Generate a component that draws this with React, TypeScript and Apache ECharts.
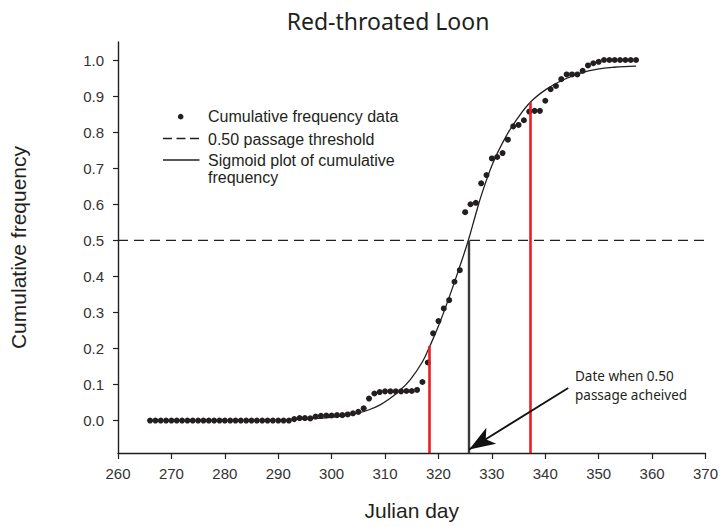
import React, { useEffect, useRef } from "react";
import * as echarts from "echarts";

// ---- text ----
const chartTitle = "Red-throated Loon";
const xAxisName = "Julian day";
const yAxisName = "Cumulative frequency";
const legendLabels = [
  "Cumulative frequency data",
  "0.50 passage threshold",
  "Sigmoid plot of cumulative\nfrequency",
];
const annotationLines = ["Date when 0.50", "passage acheived"];

// ---- axes ----
const xMin = 260;
const xMax = 370;
const xStep = 10;
const yMin = -0.09;
const yMax = 1.05;
const yTickValues = [0, 0.1, 0.2, 0.3, 0.4, 0.5, 0.6, 0.7, 0.8, 0.9, 1.0];

// ---- observed cumulative frequency (one point per day) ----
const days = [
  266, 267, 268, 269, 270, 271, 272, 273, 274, 275, 276, 277, 278, 279, 280,
  281, 282, 283, 284, 285, 286, 287, 288, 289, 290, 291, 292, 293, 294, 295,
  296, 297, 298, 299, 300, 301, 302, 303, 304, 305, 306, 307, 308, 309, 310,
  311, 312, 313, 314, 315, 316, 317, 318, 319, 320, 321, 322, 323, 324, 325,
  326, 327, 328, 329, 330, 331, 332, 333, 334, 335, 336, 337, 338, 339, 340,
  341, 342, 343, 344, 345, 346, 347, 348, 349, 350, 351, 352, 353, 354, 355,
  356, 357,
];
const cumFreq = [
  0, 0, 0, 0, 0, 0, 0, 0, 0, 0, 0, 0, 0, 0, 0,
  0, 0, 0, 0, 0, 0, 0, 0, 0, 0, 0, 0, 0.004, 0.007, 0.007,
  0.006, 0.011, 0.013, 0.014, 0.014, 0.015, 0.015, 0.017, 0.02, 0.024, 0.034, 0.061, 0.075, 0.079, 0.081,
  0.081, 0.081, 0.081, 0.082, 0.082, 0.085, 0.107, 0.161, 0.242, 0.276, 0.311, 0.334, 0.385, 0.417, 0.578,
  0.6, 0.604, 0.658, 0.681, 0.727, 0.731, 0.742, 0.779, 0.816, 0.82, 0.833, 0.857, 0.859, 0.859, 0.887,
  0.919, 0.928, 0.947, 0.96, 0.96, 0.96, 0.97, 0.985, 0.991, 0.995, 1.0, 1.0, 1.0, 1.0, 1.0,
  1.0, 1.0,
];

// ---- fitted sigmoid ----
const sigmoidDays = [
  292, 296, 300, 303, 305, 307, 309, 310.5, 312.5, 314.7, 317, 318.4, 320,
  322.2, 324.1, 325.6, 326.9, 328.1, 330.3, 332.8, 334.7, 337.2, 340.3, 343.5,
  346.6, 349.8, 352.9, 357,
];
const sigmoidValues = [
  0.003, 0.005, 0.009, 0.015, 0.021, 0.03, 0.043, 0.057, 0.08, 0.113, 0.163,
  0.207, 0.262, 0.35, 0.432, 0.5, 0.568, 0.628, 0.718, 0.792, 0.836, 0.883,
  0.92, 0.946, 0.964, 0.975, 0.98, 0.983,
];

// ---- threshold and reference days ----
const threshold = 0.5;
const passageDay = 325.6;
const redLineDays = [318.2, 337.1];
const redLineTops = [0.207, 0.883];
const arrowFrom = [344.3, 0.09];
const arrowTo = [325.75, -0.08];

const ink = "#231f20";
const red = "#ed1c24";
const sansFont = "Liberation Sans";
const humanistFont = "Noto Sans";

function buildOption(): echarts.EChartsCoreOption {
  const scatterData = days.map((d, i) => [d, cumFreq[i]]);
  const sigmoidData = sigmoidDays.map((d, i) => [d, sigmoidValues[i]]);

  const markLines: any[] = redLineDays.map((d, i) => [
    { coord: [d, yMin], symbol: "none", lineStyle: { color: red, width: 2.6, type: "solid" } },
    { coord: [d, redLineTops[i]], symbol: "none" },
  ]);
  markLines.push([
    { coord: [passageDay, yMin], symbol: "none", lineStyle: { color: "#3a3a3a", width: 2.4, type: "solid" } },
    { coord: [passageDay, threshold], symbol: "none" },
  ]);
  markLines.push([
    { coord: arrowFrom, symbol: "none", lineStyle: { color: "#111", width: 1.8, type: "solid" } },
    { coord: arrowTo, symbol: "arrow", symbolSize: [14, 26] },
  ]);

  return {
    animation: false,
    backgroundColor: "#ffffff",
    title: {
      text: chartTitle,
      left: 383,
      top: 4,
      textAlign: "center",
      textStyle: {
        fontFamily: humanistFont,
        fontSize: 23,
        fontWeight: "normal",
        color: ink,
      },
    },
    grid: {
      left: 118,
      right: 17.5,
      top: 42,
      bottom: 74,
      containLabel: false,
      outerBoundsMode: "none",
    },
    xAxis: {
      type: "value",
      min: xMin,
      max: xMax,
      interval: xStep,
      name: xAxisName,
      nameLocation: "middle",
      nameGap: 47,
      nameTextStyle: { fontFamily: sansFont, fontSize: 21, color: ink },
      axisLine: { show: true, onZero: false, lineStyle: { color: ink, width: 1.4 } },
      axisTick: { show: true, length: 6, lineStyle: { color: ink, width: 1.2 } },
      axisLabel: { margin: 13, fontFamily: sansFont, fontSize: 15, color: "#333333" },
      splitLine: { show: false },
    },
    yAxis: {
      type: "value",
      min: yMin,
      max: yMax,
      name: yAxisName,
      nameLocation: "middle",
      nameGap: 89,
      nameRotate: 90,
      nameTextStyle: { fontFamily: sansFont, fontSize: 21, color: ink },
      axisLine: { show: true, onZero: false, lineStyle: { color: ink, width: 1.4 } },
      axisTick: {
        show: true,
        length: 5,
        customValues: yTickValues,
        lineStyle: { color: ink, width: 1.2 },
      },
      axisLabel: {
        customValues: yTickValues,
        margin: 14,
        fontFamily: sansFont,
        fontSize: 15,
        color: "#333333",
        formatter: (v: number) => v.toFixed(1),
      },
      splitLine: { show: false },
    },
    series: [
      {
        name: legendLabels[1],
        type: "line",
        data: [
          [xMin, threshold],
          [xMax, threshold],
        ],
        symbol: "none",
        lineStyle: { color: ink, width: 1.3, type: [10, 6] },
        silent: true,
        z: 2,
      },
      {
        name: legendLabels[2].replace("\n", " "),
        type: "line",
        data: sigmoidData,
        smooth: 0.4,
        symbol: "none",
        lineStyle: { color: ink, width: 1.3 },
        silent: true,
        z: 3,
        markLine: {
          silent: true,
          symbol: ["none", "none"],
          label: { show: false },
          emphasis: { disabled: true },
          data: markLines,
        },
      },
      {
        name: legendLabels[0],
        type: "scatter",
        data: scatterData,
        symbol: "circle",
        symbolSize: 6,
        itemStyle: { color: ink, opacity: 1 },
        z: 4,
      },
    ],
    graphic: [
      {
        type: "circle",
        shape: { cx: 180.7, cy: 116.7, r: 2.8 },
        style: { fill: ink },
        silent: true,
      },
      {
        type: "line",
        shape: { x1: 163, y1: 138.5, x2: 199.5, y2: 138.5 },
        style: { stroke: ink, lineWidth: 1.3, lineDash: [9, 4.5] },
        silent: true,
      },
      {
        type: "line",
        shape: { x1: 163, y1: 160, x2: 199.5, y2: 160 },
        style: { stroke: ink, lineWidth: 1.3 },
        silent: true,
      },
      {
        type: "text",
        x: 208,
        y: 116.7,
        style: {
          text: legendLabels[0],
          fontFamily: sansFont,
          fontSize: 16,
          fill: ink,
          verticalAlign: "middle",
        },
        silent: true,
      },
      {
        type: "text",
        x: 208,
        y: 139.3,
        style: {
          text: legendLabels[1],
          fontFamily: sansFont,
          fontSize: 16,
          fill: ink,
          verticalAlign: "middle",
        },
        silent: true,
      },
      {
        type: "text",
        x: 208,
        y: 151.5,
        style: {
          text: legendLabels[2],
          fontFamily: sansFont,
          fontSize: 16,
          lineHeight: 17,
          fill: ink,
          verticalAlign: "top",
        },
        silent: true,
      },
      {
        type: "text",
        x: 575,
        y: 376,
        style: {
          text: annotationLines[0],
          fontFamily: humanistFont,
          fontSize: 13.5,
          fill: ink,
          verticalAlign: "middle",
        },
        silent: true,
      },
      {
        type: "text",
        x: 575,
        y: 394.5,
        style: {
          text: annotationLines[1],
          fontFamily: humanistFont,
          fontSize: 13.5,
          fill: ink,
          verticalAlign: "middle",
        },
        silent: true,
      },
    ],
  };
}

export default function App() {
  const ref = useRef<HTMLDivElement>(null);
  useEffect(() => {
    if (!ref.current) return;
    const chart = echarts.init(ref.current, undefined, {
      renderer: "svg",
      width: 723,
      height: 527,
    });
    chart.setOption(buildOption());
    return () => {
      chart.dispose();
    };
  }, []);
  return (
    <div
      ref={ref}
      style={{
        position: "fixed",
        left: 0,
        top: 0,
        width: 723,
        height: 527,
        background: "#ffffff",
      }}
    />
  );
}
